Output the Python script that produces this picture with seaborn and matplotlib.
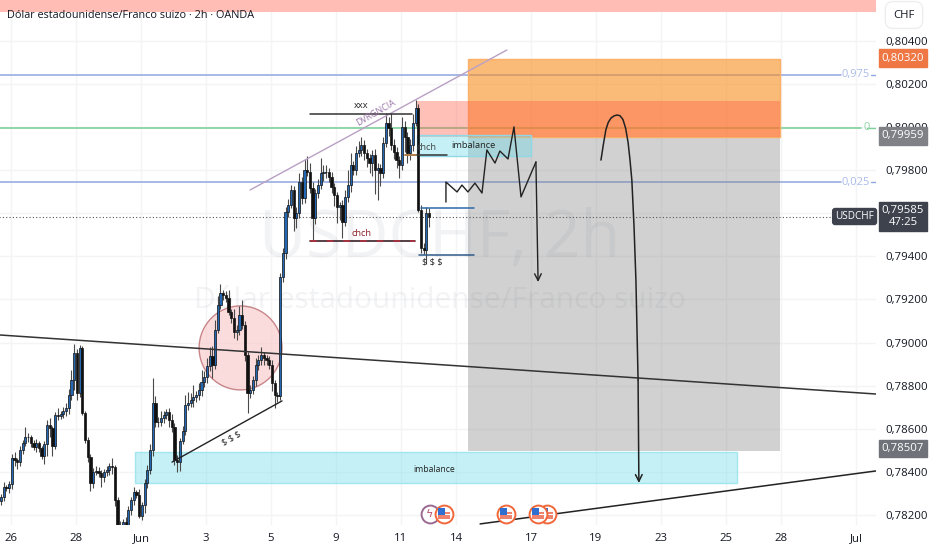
import numpy as np
import pandas as pd
import matplotlib
matplotlib.use("Agg")
import matplotlib.pyplot as plt
from matplotlib.patches import Rectangle, Ellipse
import seaborn as sns

closes = [78283,78329,78325,78343,78464,78455,78445,78501,78534,78561,
78561,78534,78515,78534,78510,78473,78529,78617,78603,78520,
78664,78659,78668,78682,78696,78756,78826,78951,78766,78975,
78673,78548,78469,78348,78399,78404,78394,78376,78399,78408,
78427,78422,78269,78153,78130,78167,78130,78223,78269,78306,
78292,78195,78246,78348,78408,78501,78719,78631,78631,78650,
78664,78677,78640,78608,78455,78445,78543,78589,78710,78719,
78733,78747,78756,78780,78817,78840,78891,78937,78896,79058,
79174,79230,79221,79207,79142,79114,79049,79058,79128,79081,
78942,78766,78780,78826,78896,78919,78942,78928,78919,78896,
78812,78756,78752,79304,79416,79606,79638,79708,79578,79601,
79745,79671,79801,79792,79717,79578,79694,79731,79787,79792,
79792,79768,79722,79685,79629,79638,79559,79676,79731,79824,
79801,79880,79894,79917,79880,79857,79833,79870,79801,79810,
79787,79926,80019,79996,79917,79884,79847,79824,80000,79954,
79880,79917,80019,80089,79615,79439,79430,79601,79585]

wick_up = [15,25,10,15,20,30,10,20,15,45,
20,10,15,20,10,10,15,25,35,10,
15,30,15,20,25,30,45,40,20,15,
10,10,15,15,20,25,20,15,15,20,
15,35,10,15,20,15,25,20,15,25,
10,30,15,20,25,30,115,35,25,30,
20,15,20,30,20,25,15,25,45,50,
35,55,20,30,55,30,35,40,45,45,
40,40,15,20,35,15,40,25,40,70,
20,15,25,20,30,25,35,15,15,20,
25,15,15,20,25,25,30,25,20,30,
40,25,50,65,40,30,20,30,70,30,
30,20,25,20,15,15,25,30,70,55,
20,30,40,35,25,20,20,25,30,25,
20,30,45,30,70,30,25,20,45,30,
25,30,40,35,20,25,25,30,25]

wick_dn = [15,20,15,25,25,30,30,20,20,15,
25,20,15,25,20,15,35,55,40,45,
15,20,15,20,25,30,25,45,35,20,
10,15,25,35,25,15,20,45,25,20,
25,30,30,15,10,15,10,20,25,25,
15,10,20,35,25,20,30,25,25,20,
25,20,30,25,25,45,40,15,20,25,
20,30,25,25,30,25,30,25,60,20,
15,20,25,20,15,25,30,35,25,20,
30,93,25,20,30,25,25,30,25,20,
35,60,30,20,25,30,25,15,60,45,
25,30,25,20,25,100,30,25,20,35,
30,25,30,50,75,60,74,20,25,30,
25,25,20,30,35,40,45,60,110,140,
60,25,20,35,25,30,35,60,25,70,
45,35,30,15,10,25,20,65,50]

tick_pos = [3.7,27.7,51.7,75.6,99.6,123.6,147.6,168,195.6,219.6,243.5,267.5,287.8,315.5]
tick_lab = ["26","28","Jun","3","5","9","11","14","17","19","23","25","28","Jul"]
price_ticks = [0.804,0.802,0.800,0.798,0.796,0.794,0.792,0.790,0.788,0.786,0.784,0.782]
price_labs = ["0,80400","0,80200","0,80000","0,79800","0,79600","0,79400","0,79200","0,79000","0,78800","0,78600","0,78400","0,78200"]

sns.set_theme(style="white")
plt.rcParams['font.family'] = ['Open Sans', 'DejaVu Sans']
TXT = "#131722"

fig = plt.figure(figsize=(9.32, 5.5), dpi=100, facecolor="white")
ax = fig.add_axes([0, 25/550, 876/932, 525/550])
ax.set_xlim(-0.37, 322.9)
ax.set_ylim(0.78153, 0.80590)

df = pd.DataFrame({"i": np.arange(len(closes)), "c": np.array(closes)/1e5})
df["o"] = df["c"].shift(1).fillna(df["c"] - 0.0002)
df["top"] = df[["o", "c"]].max(axis=1)
df["bot"] = df[["o", "c"]].min(axis=1)
df["h"] = df["top"] + np.array(wick_up)/1e5
df["l"] = df["bot"] - np.array(wick_dn)/1e5
df["up"] = df["c"] >= df["o"]

# axes furniture
ax.yaxis.tick_right()
ax.set_yticks(price_ticks, price_labs)
ax.set_xticks(tick_pos, tick_lab)
ax.tick_params(axis="y", length=0, pad=6.5, labelsize=8.2, labelcolor=TXT)
ax.tick_params(axis="x", length=0, pad=6, labelsize=8.2, labelcolor=TXT)
ax.grid(True, color="#f3f4f6", lw=1)
ax.set_axisbelow(True)
for s in ax.spines.values():
    s.set_visible(False)

def zone(x0, x1, p0, p1, color, alpha=1.0, ec="none", z=2):
    ax.add_patch(Rectangle((x0, p0), x1-x0, p1-p0, fc=matplotlib.colors.to_rgba(color, alpha),
                           ec=ec, lw=1, zorder=z))

# horizontal levels, seen through the zones
ax.plot([-1, 310], [0.80244]*2, color="#8fa6e0", lw=1.1, zorder=1.5)
ax.plot([-1, 317.5], [0.79996]*2, color="#7fd19a", lw=1.2, zorder=1.5)
ax.plot([-1, 310], [0.79745]*2, color="#8fa6e0", lw=1.1, zorder=1.5)
ax.plot([-1, 307], [0.79585]*2, color="#555555", lw=0.8, ls=(0, (1, 2)), zorder=3)
ax.plot([321, 323], [0.80244]*2, color="#8fa6e0", lw=1)
ax.plot([319.5, 323], [0.79996]*2, color="#7fd19a", lw=1)
ax.plot([321, 323], [0.79745]*2, color="#8fa6e0", lw=1)
ax.text(315.5, 0.80244, "0,975", color="#a9bce9", fontsize=8, ha="center", va="center", zorder=6)
ax.text(320.7, 0.79996, "0", color="#8ed6a6", fontsize=8, ha="right", va="center", zorder=6)
ax.text(315.5, 0.79745, "0,025", color="#a9bce9", fontsize=8, ha="center", va="center", zorder=6)

zone(-1, 323, 0.80534, 0.80600, "#ffbdb5")
zone(172.3, 287.5, 0.78496, 0.79954, "#808080", alpha=0.36)
zone(172.3, 287.5, 0.79954, 0.80315, "#f98e1e", alpha=0.6, ec="#fbb069")
zone(153.5, 287.5, 0.79954, 0.80121, "#ff5a45", alpha=0.38, z=2.1)
zone(153.5, 195.6, 0.79866, 0.79963, "#6fdcea", alpha=0.4, ec="#8fd8e6", z=2.2)
zone(49.4, 271.6, 0.78348, 0.78492, "#6fdcea", alpha=0.4, ec="#a3e6ee")
ax.add_patch(Ellipse((88.4, 0.78975), 30.6, 0.0039, fc="#f9c7c9", ec="#a8484c", alpha=0.62, lw=1, zorder=2))

# watermarks
wm = matplotlib.colors.to_rgba("#787b86", 0.09)
ax.text(162, 0.79476, "USDCHF, 2h", fontsize=46.5, color=wm, ha="center", va="center", zorder=2.8)
ax.text(162, 0.79197, "Dólar estadounidense/Franco suizo", fontsize=21.5, color=wm, ha="center", va="center", zorder=2.8)

# candles
ax.vlines(df["i"], df["l"], df["h"], color="#4a4a4a", lw=0.8, zorder=3)
ax.bar(df["i"][df["up"]], (df["top"]-df["bot"])[df["up"]], bottom=df["bot"][df["up"]], width=0.78,
       color="#2368b4", edgecolor="#101010", lw=0.5, zorder=4)
ax.bar(df["i"][~df["up"]], (df["top"]-df["bot"])[~df["up"]], bottom=df["bot"][~df["up"]], width=0.85,
       color="#111111", edgecolor="#111111", lw=0.5, zorder=4)

# drawings
def line(xs, ps, color="#222222", lw=1.0, z=5, ls="-"):
    d = pd.DataFrame({"x": xs, "p": ps})
    sns.lineplot(data=d, x="x", y="p", sort=False, estimator=None, color=color, lw=lw, zorder=z, ax=ax, linestyle=ls)

line([-0.4, 322.9], [0.79035, 0.78761], "#333333", 1.1)
line([176.8, 322.9], [0.78158, 0.78404], "#222222", 1.1)
line([91.9, 186.7], [0.79708, 0.80358], "#b9a0c4", 1.0)
line([114, 151.7], [0.80061, 0.80061], "#333333", 1.1)
line([114, 152.8], [0.79471, 0.79471], "#3a2026", 1.2)
line([114, 152.8], [0.79471, 0.79471], "#b23040", 1.2, z=5.1, ls=(0, (4, 6)))
line([149, 164.6], [0.79870, 0.79870], "#333333", 1.1)
line([149, 153], [0.79870, 0.79870], "#c98a4a", 1.1, z=5.1)
line([155, 174.5], [0.79624, 0.79624], "#2c6aa8", 1.1)
line([154.2, 174.5], [0.79406, 0.79406], "#2c5a88", 1.1)
line([63.1, 103.7], [0.78445, 0.78729], "#222222", 1.0)

zig_x = [164.2,164.2,168.3,170.1,172.3,174.9,177.5,179.3,182.3,184.1,187.1,189.3,191.9,197.4]
zig_p = [0.79652,0.79745,0.79699,0.79731,0.79699,0.79740,0.79694,0.79894,0.79833,0.79889,0.79852,0.80001,0.79676,0.79838]
line(zig_x, zig_p, "#222222", 1.0)
ax.annotate("", xy=(198.2, 0.79281), xytext=(197.4, 0.79838),
            arrowprops=dict(arrowstyle="->", color="#222222", lw=1.0, shrinkA=0, shrinkB=0), zorder=5)
cur_x = [221.4,222.3,223.2,224.1,225.1,226.2,227.3,228.4,229.5,230.5,231.4,232.1,232.8,233.6,234.3,235.1]
cur_p = [0.79847,0.79920,0.79987,0.80022,0.80042,0.80052,0.80056,0.80053,0.80036,0.79995,0.79930,0.79850,0.79754,0.79540,0.79290,0.78826]
line(cur_x, cur_p, "#222222", 1.1)
ax.annotate("", xy=(235.4, 0.78348), xytext=(235.1, 0.78826),
            arrowprops=dict(arrowstyle="->", color="#222222", lw=1.1, shrinkA=0, shrinkB=0), zorder=5)

lab = dict(fontsize=6.7, ha="center", va="center", zorder=7)
ax.text(133, 0.80100, "xxx", color="#222222", **lab)
ax.text(133, 0.79508, "chch", color="#8c1f26", **lab)
ax.text(157, 0.79903, "chch", color="#444444", **lab)
ax.text(174.5, 0.79913, "imbalance", color="#222222", **lab)
ax.text(159, 0.79376, "$ $ $", color="#222222", **lab)
ax.text(85, 0.78555, "$ $ $", color="#222222", rotation=30, **lab)
ax.text(138.5, 0.80065, "DVRGNCIA", color="#9a74a8", fontsize=6.4, ha="center", va="center", rotation=30, zorder=7)
ax.text(160, 0.78410, "imbalance", color="#222222", fontsize=6.2, ha="center", va="center", zorder=7)

# event icons (drawn back to front)
ev_x = [158.3, 201.5, 198.2, 186.3, 163.5]
ev_c = ["#9a6a92", "#f0673a", "#f0673a", "#f0673a", "#f0673a"]
ev_price = 0.78204
for k, (ex, ec) in enumerate(zip(ev_x, ev_c)):
    z = 8 + k*0.1
    ax.scatter([ex], [ev_price], s=165, fc="white", ec=ec, lw=1.4, zorder=z)
    if k == 0:
        ax.text(ex-0.2, ev_price, "ϟ", fontsize=8, color="#b8506a", ha="center", va="center", family="DejaVu Sans", zorder=z+0.01)
    else:
        ax.hlines([ev_price+0.00003, ev_price-0.00007, ev_price-0.00017], ex-2.2, ex+2.2, color="#ef7f68", lw=1.4, zorder=z+0.01)
        ax.scatter([ex-0.9], [ev_price+0.00011], s=26, fc="#2f6fd0", ec="none", marker="s", zorder=z+0.02)

# price tags
def tag(yv, s, fc, tc="white"):
    ax.annotate(s, xy=(1.0, yv), xycoords=ax.get_yaxis_transform(), xytext=(903, 0),
                textcoords=("figure pixels", "offset points"),
                fontsize=8.2, color=tc, ha="center", va="center", annotation_clip=False,
                bbox=dict(boxstyle="square,pad=0.28", fc=fc, ec=fc), zorder=20)

tag(0.80320, "0,80320", "#ee7744")
tag(0.79959, "0,79959", "#7f8186")
tag(0.78507, "0,78507", "#6f7278")
tag(0.79585, "0,79585\n47:25", "#3e424d")
ax.text(315, 0.79585, "USDCHF", fontsize=7.2, color="white", ha="center", va="center", zorder=20,
        bbox=dict(boxstyle="round,pad=0.25", fc="#3e424d", ec="#3e424d"))

# header
fig.text(7/932, 1-15/550, "Dólar estadounidense/Franco suizo · 2h · OANDA", fontsize=7.8, color=TXT, ha="left", va="center", zorder=30)
fig.text(904/932, 1-15/550, "CHF", fontsize=8.2, color=TXT, ha="center", va="center", zorder=30,
         bbox=dict(boxstyle="round,pad=0.7", fc="white", ec="#eeeeee"))
ax.set_xlabel(""); ax.set_ylabel("")
fig.savefig("out.png", dpi=100, facecolor="white")
